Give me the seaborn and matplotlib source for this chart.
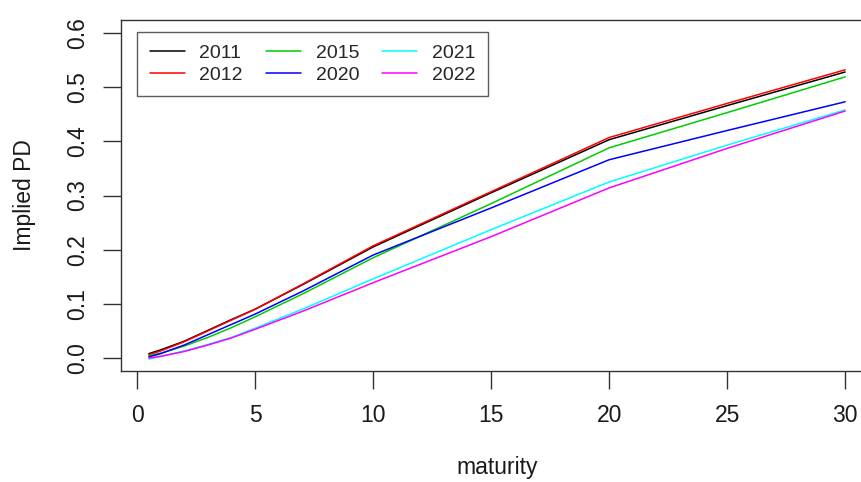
import matplotlib
matplotlib.use("Agg")
import matplotlib.pyplot as plt
import numpy as np
import pandas as pd
import seaborn as sns

# maturities (years) and implied PD per year
maturity = [0.5, 1, 2, 3, 4, 5, 7, 10, 15, 20, 25, 30]
pd_2011 = [0.008, 0.015, 0.031, 0.051, 0.071, 0.090, 0.135, 0.205, 0.305, 0.403, 0.466, 0.528]
pd_2012 = [0.006, 0.013, 0.030, 0.050, 0.070, 0.090, 0.136, 0.207, 0.307, 0.407, 0.470, 0.532]
pd_2015 = [0.004, 0.009, 0.022, 0.038, 0.056, 0.076, 0.118, 0.185, 0.285, 0.388, 0.453, 0.519]
pd_2020 = [0.002, 0.008, 0.024, 0.043, 0.062, 0.081, 0.123, 0.190, 0.277, 0.366, 0.420, 0.473]
pd_2021 = [-0.002, 0.003, 0.013, 0.025, 0.038, 0.055, 0.090, 0.146, 0.237, 0.325, 0.393, 0.458]
pd_2022 = [0.000, 0.003, 0.012, 0.024, 0.037, 0.053, 0.086, 0.139, 0.224, 0.314, 0.387, 0.456]

years = ["2011", "2012", "2015", "2020", "2021", "2022"]
series = [pd_2011, pd_2012, pd_2015, pd_2020, pd_2021, pd_2022]
colors = {"2011": "black", "2012": "#FF0000", "2015": "#00CD00",
          "2020": "#0000FF", "2021": "#00FFFF", "2022": "#FF00FF"}

df = pd.concat([pd.DataFrame({"maturity": maturity, "pd": s, "year": y})
                for y, s in zip(years, series)], ignore_index=True)

sns.set_style("white")
plt.rcParams["font.family"] = ["Liberation Sans", "DejaVu Sans"]

W, H = 861, 482
fig = plt.figure(figsize=(W / 100, H / 100), dpi=100)
# R-style plot region; the right edge runs past the image like in the reference
ax = fig.add_axes([121 / W, (H - 371) / H, 752 / W, 351 / H])

sns.lineplot(data=df, x="maturity", y="pd", hue="year", hue_order=years,
             palette=colors, linewidth=1.1, ax=ax, legend=True)

ax.set_xlim(-0.68, 31.18)
ax.set_ylim(-0.024, 0.624)
ax.set_xticks([0, 5, 10, 15, 20, 25, 30])
ax.set_yticks([0.0, 0.1, 0.2, 0.3, 0.4, 0.5, 0.6])
ax.set_yticklabels(["0.0", "0.1", "0.2", "0.3", "0.4", "0.5", "0.6"], rotation=90, va="center")
ax.tick_params(axis="both", direction="out", length=13, width=1, color="#333333",
               labelsize=16.5, left=True, bottom=True, labelcolor="#1a1a1a")
ax.tick_params(axis="x", pad=11)
ax.tick_params(axis="y", pad=10)
for sp in ax.spines.values():
    sp.set_color("#333333")
    sp.set_linewidth(1)

ax.set_xlabel("maturity", fontsize=16.5, color="#1a1a1a")
ax.xaxis.set_label_coords(0.5, (H - 456 - 111) / 351)
ax.set_ylabel("Implied PD", fontsize=16.5, color="#1a1a1a")
ax.yaxis.label.set_va("center")
ax.yaxis.set_label_coords((24 - 121) / 752, 0.5)

leg = ax.legend(ncol=3, loc="upper left", bbox_to_anchor=(137 / W, 1 - 32 / H),
                bbox_transform=fig.transFigure, borderaxespad=0, fancybox=False,
                fontsize=14, handlelength=1.8, handletextpad=0.75, columnspacing=1.2,
                labelspacing=0.2, borderpad=0.65)
leg.get_frame().set_edgecolor("#333333")
leg.get_frame().set_linewidth(1)
for line in leg.get_lines():
    line.set_linewidth(1.1)

fig.savefig("out.png", dpi=100)
